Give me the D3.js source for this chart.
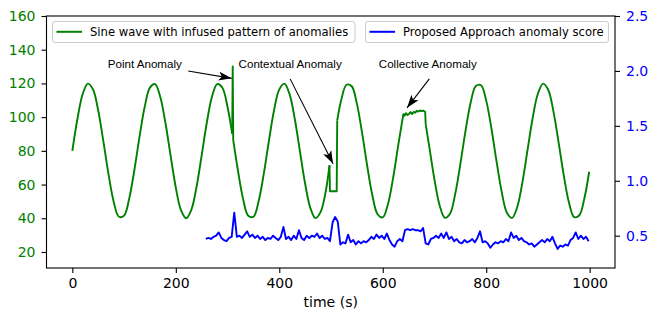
<!DOCTYPE html>
<html>
<head>
<meta charset="utf-8">
<script src="https://cdn.jsdelivr.net/npm/d3@7"></script>
<style>
  body { margin: 0; background: #fff; }
  svg { display: block; }
</style>
</head>
<body>
<div class="chart"></div>
<script>
// sine signal, one sample every 10 s from t = 0
const sampleStep = 10;
const sineValues = [
  80.0, 99.2, 113.7, 119.9, 116.4, 103.9, 85.6, 66.0, 49.7, 40.9,
  41.6, 51.8, 68.8, 88.6, 106.3, 117.5, 119.6, 111.9, 96.5, 77.0,
  58.2, 44.8, 40.0, 45.0, 58.5, 77.3, 96.8, 112.2, 119.6, 117.4,
  106.0, 88.3, 68.5, 51.5, 41.5, 40.9, 50.0, 66.3, 86.0, 104.2,
  116.5, 119.9, 113.5, 98.9, 79.6, 60.5, 46.2, 40.1, 43.8, 56.3,
  74.7, 94.4, 110.5, 119.2, 118.3, 108.0, 90.8, 71.0, 53.5, 42.4,
  40.5, 48.3, 63.8, 83.4, 102.1, 115.4, 120.0, 114.9, 101.2, 82.3,
  62.9, 47.6, 40.3, 42.7, 54.3, 72.1, 91.9, 108.7, 118.5, 118.9,
  109.8, 93.4, 73.7, 55.5, 43.3, 40.2, 46.7, 61.4, 80.7, 99.8,
  114.0, 119.9, 116.1, 103.3, 84.9, 65.3, 49.3, 40.7, 41.8, 52.2
];
const lastSample = [999, 67.6];

// infused anomalies [time, value]; first and last points sit on the sine
const pointAnomaly = [[309, 90.2], [310, 130], [311, 86.3]];
const contextualAnomaly = [[497, 71.4], [498, 56], [511, 56], [512, 98.0]];
const collectiveAnomaly = [
  [640, 102.1], [642, 100.8], [645, 102.3], [648, 101.2], [651, 102.0],
  [654, 103.0], [657, 101.8], [660, 103.2], [663, 102.6], [666, 103.8],
  [669, 103.3], [672, 104.0], [675, 103.6], [678, 103.9], [682, 103.2],
  [683, 95.9]
];

// anomaly score, one value every 5 s from t = 258
const scoreStart = 258;
const scoreStep = 5;
const scoreValues = [
  0.47, 0.48, 0.47, 0.49, 0.50, 0.53, 0.48, 0.46, 0.45, 0.48,
  0.49, 0.71, 0.49, 0.50, 0.48, 0.51, 0.54, 0.49, 0.51, 0.48,
  0.50, 0.47, 0.49, 0.46, 0.48, 0.47, 0.50, 0.48, 0.46, 0.49,
  0.58, 0.47, 0.49, 0.46, 0.50, 0.47, 0.55, 0.48, 0.46, 0.50,
  0.48, 0.50, 0.49, 0.52, 0.48, 0.50, 0.47, 0.48, 0.45, 0.62,
  0.67, 0.63, 0.42, 0.44, 0.43, 0.51, 0.44, 0.46, 0.42, 0.45,
  0.43, 0.45, 0.44, 0.46, 0.49, 0.47, 0.51, 0.48, 0.50, 0.47,
  0.52, 0.46, 0.42, 0.40, 0.45, 0.47, 0.45, 0.55, 0.56, 0.55,
  0.56, 0.55, 0.55, 0.54, 0.57, 0.43, 0.42, 0.47, 0.48, 0.50,
  0.48, 0.52, 0.48, 0.53, 0.47, 0.49, 0.45, 0.47, 0.44, 0.43,
  0.46, 0.44, 0.45, 0.47, 0.44, 0.48, 0.54, 0.44, 0.45, 0.43,
  0.39, 0.42, 0.44, 0.43, 0.45, 0.44, 0.47, 0.45, 0.53, 0.48,
  0.50, 0.46, 0.48, 0.45, 0.44, 0.42, 0.43, 0.40, 0.42, 0.44,
  0.46, 0.44, 0.47, 0.45, 0.49, 0.43, 0.38, 0.41, 0.40, 0.42,
  0.41, 0.46, 0.48, 0.53, 0.47, 0.50, 0.47, 0.49, 0.45
];

const xTicks = [0, 200, 400, 600, 800, 1000];
const leftTicks = [20, 40, 60, 80, 100, 120, 140, 160];
const rightTicks = [0.5, 1.0, 1.5, 2.0, 2.5];

const legendLabels = ["Sine wave with infused pattern of anomalies", "Proposed Approach anomaly score"];

// annotations: label, text anchor [t, v], arrow start [t, v], arrow tip [t, v]
const annotations = [
  {label: "Point Anomaly", text: [140, 129.4], from: [224, 127.4], to: [308, 123.0]},
  {label: "Contextual Anomaly", text: [421, 129.4], from: [421, 122.7], to: [504, 72.3]},
  {label: "Collective Anomaly", text: [687, 129.4], from: [690, 122.7], to: [647, 105.5]}
];

const green = "#008000", blue = "#0000ff";
const W = 649, H = 312;
const plot = {left: 46.5, right: 615, top: 16, bottom: 268};

const svg = d3.select(".chart").append("svg")
  .attr("width", W).attr("height", H);

const x = d3.scaleLinear().domain([-49.95, 1048.95]).range([plot.left, plot.right]);
const yL = d3.scaleLinear().domain([10.5, 160]).range([plot.bottom, plot.top]);
const yR = d3.scaleLinear().domain([0.206, 2.5]).range([plot.bottom, plot.top]);

// sine samples, then cut into smooth stretches between the anomaly windows
const sine = sineValues.map((v, i) => [i * sampleStep, v]);
sine.push(lastSample);
const anomalies = [pointAnomaly, contextualAnomaly, collectiveAnomaly];

const smoothParts = [];
let from = null;
anomalies.forEach(a => {
  const t0 = a[0][0];
  const part = sine.filter(d => (from === null || d[0] > from[0]) && d[0] < t0);
  smoothParts.push((from ? [from] : []).concat(part, [a[0]]));
  from = a[a.length - 1];
});
smoothParts.push([from].concat(sine.filter(d => d[0] > from[0])));

const score = scoreValues.map((v, i) => [scoreStart + i * scoreStep, v]);

const smoothLine = d3.line().x(d => x(d[0])).y(d => yL(d[1])).curve(d3.curveCatmullRom.alpha(0.5));
const straightLine = d3.line().x(d => x(d[0])).y(d => yL(d[1]));

const gSignal = svg.append("g")
  .attr("fill", "none")
  .attr("stroke", green)
  .attr("stroke-width", 1.9)
  .attr("stroke-linejoin", "round");
smoothParts.forEach(p => gSignal.append("path").attr("d", smoothLine(p)));
anomalies.forEach(a => gSignal.append("path").attr("d", straightLine(a)));

// anomaly score
svg.append("path")
  .datum(score)
  .attr("fill", "none")
  .attr("stroke", blue)
  .attr("stroke-width", 1.9)
  .attr("stroke-linejoin", "round")
  .attr("d", d3.line().x(d => x(d[0])).y(d => yR(d[1])));

// axes
const styleAxis = (g, color) => {
  g.select(".domain").remove();
  g.selectAll(".tick line").attr("stroke", "#000").attr("stroke-width", 1.1);
  g.selectAll(".tick text").attr("fill", color)
    .style("font-family", "'DejaVu Sans', sans-serif").style("font-size", "14px");
};

svg.append("g")
  .attr("transform", `translate(0,${plot.bottom})`)
  .call(d3.axisBottom(x).tickValues(xTicks).tickFormat(d3.format("d")).tickSize(5).tickPadding(5))
  .call(g => styleAxis(g, "#000"));

svg.append("g")
  .attr("transform", `translate(${plot.left},0)`)
  .call(d3.axisLeft(yL).tickValues(leftTicks).tickSize(5).tickPadding(6))
  .call(g => styleAxis(g, green));

svg.append("g")
  .attr("transform", `translate(${plot.right},0)`)
  .call(d3.axisRight(yR).tickValues(rightTicks).tickFormat(d3.format(".1f")).tickSize(5).tickPadding(6))
  .call(g => styleAxis(g, blue));

// frame
svg.append("rect")
  .attr("x", plot.left).attr("y", plot.top)
  .attr("width", plot.right - plot.left).attr("height", plot.bottom - plot.top)
  .attr("fill", "none").attr("stroke", "#000").attr("stroke-width", 1.1);

svg.append("text")
  .attr("x", (plot.left + plot.right) / 2).attr("y", 307)
  .attr("text-anchor", "middle")
  .style("font-family", "'DejaVu Sans', sans-serif").style("font-size", "14px")
  .text("time (s)");

// legends
const legends = [
  {label: legendLabels[0], color: green, x0: 52.5, x1: 355},
  {label: legendLabels[1], color: blue, x0: 365.5, x1: 608.5}
];
legends.forEach(l => {
  const g = svg.append("g");
  g.append("rect")
    .attr("x", l.x0).attr("y", 21.5).attr("width", l.x1 - l.x0).attr("height", 21)
    .attr("rx", 2.5)
    .attr("fill", "#fff").attr("fill-opacity", 0.8)
    .attr("stroke", "#cccccc").attr("stroke-width", 1);
  g.append("line")
    .attr("x1", l.x0 + 4).attr("x2", l.x0 + 29.5)
    .attr("y1", 31.8).attr("y2", 31.8)
    .attr("stroke", l.color).attr("stroke-width", 2);
  g.append("text")
    .attr("x", l.x0 + 37.5).attr("y", 36)
    .style("font-family", "'DejaVu Sans', sans-serif").style("font-size", "11.6px")
    .text(l.label);
});

// annotations
svg.append("defs").append("marker")
  .attr("id", "head")
  .attr("markerUnits", "userSpaceOnUse")
  .attr("viewBox", "-14 -6 16 12")
  .attr("markerWidth", 16).attr("markerHeight", 12)
  .attr("refX", 0).attr("refY", 0)
  .attr("orient", "auto")
  .append("path")
  .attr("d", "M0,0 L-13,-4.5 L-10,0 L-13,4.5 Z")
  .attr("fill", "#000");

annotations.forEach(a => {
  svg.append("text")
    .attr("x", x(a.text[0])).attr("y", yL(a.text[1]))
    .attr("text-anchor", "middle")
    .style("font-family", "'Liberation Sans', Arial, sans-serif").style("font-size", "11.6px")
    .text(a.label);
  svg.append("line")
    .attr("x1", x(a.from[0])).attr("y1", yL(a.from[1]))
    .attr("x2", x(a.to[0])).attr("y2", yL(a.to[1]))
    .attr("stroke", "#000").attr("stroke-width", 1.1)
    .attr("marker-end", "url(#head)");
});
</script>
</body>
</html>
